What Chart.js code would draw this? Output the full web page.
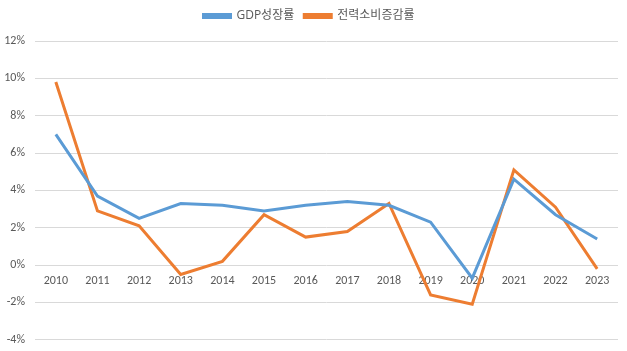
<!DOCTYPE html>
<html><head><meta charset="utf-8">
<script src="https://cdn.jsdelivr.net/npm/chart.js@4"></script>
<style>html,body{margin:0;padding:0;background:#fff;overflow:hidden}#w{width:627px;height:357px}</style>
</head><body><div id="w"><canvas id="c"></canvas></div>
<script>
const years = ['2010','2011','2012','2013','2014','2015','2016','2017','2018','2019','2020','2021','2022','2023'];
const gdpGrowth = [7.0, 3.7, 2.5, 3.3, 3.2, 2.9, 3.2, 3.4, 3.2, 2.3, -0.7, 4.6, 2.7, 1.4];
const powerGrowth = [9.8, 2.9, 2.1, -0.5, 0.2, 2.7, 1.5, 1.8, 3.3, -1.6, -2.1, 5.1, 3.1, -0.2];
const seriesNames = ['GDP성장률', '전력소비증감률'];
const yMin = -4, yMax = 12, yStep = 2;

const font = "Calibri, Carlito, 'Open Sans', 'Noto Sans CJK KR', sans-serif";
const legendGap = {
  id: 'legendGap',
  beforeInit(chart) {
    const fit = chart.legend.fit;
    chart.legend.fit = function() { fit.call(this); this.height += 9; };
  }
};
new Chart(document.getElementById('c'), {
  type: 'line',
  data: {
    labels: years,
    datasets: [
      {label: seriesNames[0], data: gdpGrowth, borderColor: '#5B9BD5', backgroundColor: '#5B9BD5', borderWidth: 3, pointRadius: 0, tension: 0},
      {label: seriesNames[1], data: powerGrowth, borderColor: '#ED7D31', backgroundColor: '#ED7D31', borderWidth: 3, pointRadius: 0, tension: 0}
    ]
  },
  plugins: [legendGap],
  options: {
    responsive: true, maintainAspectRatio: false, animation: false,
    layout: {padding: {left: 0, right: 9, top: 0, bottom: 0}},
    plugins: {
      tooltip: {enabled: false},
      legend: {
        position: 'top',
        labels: {boxWidth: 27, boxHeight: 3, color: '#595959', font: {size: 12, family: "'Open Sans', 'Noto Sans CJK KR', sans-serif"}, padding: 10}
      }
    },
    scales: {
      x: {
        position: {y: 0},
        offset: true,
        grid: {display: false},
        border: {display: false},
        ticks: {color: '#595959', font: {size: 12, family: font}, maxRotation: 0, padding: 1}
      },
      y: {
        min: yMin, max: yMax,
        grid: {color: '#D9D9D9', drawTicks: false},
        border: {display: false},
        ticks: {stepSize: yStep, color: '#595959', font: {size: 12, family: font}, padding: 10, callback: v => v + '%'},
        afterFit: s => { s.width = 35; }
      }
    }
  }
});
</script></body></html>
